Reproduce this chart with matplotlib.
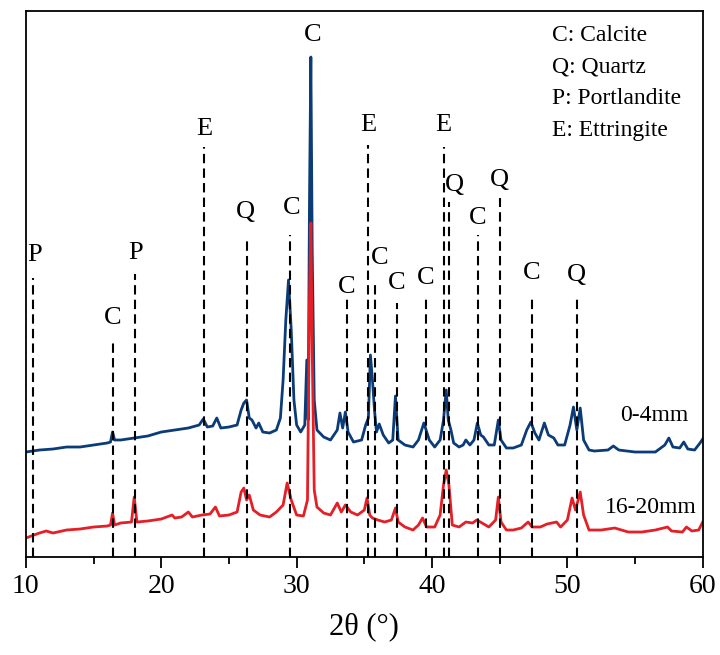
import numpy as np
import matplotlib.pyplot as plt

plt.rcParams['font.family'] = ['Liberation Serif', 'DejaVu Serif']

# two-theta positions and intensities (arb. units, offset already included)
blue_x = [10.0, 11.0, 12.0, 13.0, 14.0, 15.0, 16.0, 16.25, 16.4, 16.55, 17.0, 18.0, 19.0, 20.0, 21.0,
          22.0, 22.8, 23.1, 23.4, 23.8, 24.1, 24.4, 25.0, 25.6, 25.9, 26.1, 26.3, 26.5, 26.7, 27.0,
          27.2, 27.5, 28.0, 28.5, 28.8, 29.0, 29.2, 29.4, 29.6, 29.8, 30.0, 30.3, 30.6, 30.75, 30.85,
          30.95, 31.05, 31.15, 31.3, 31.5, 32.0, 32.5, 33.0, 33.2, 33.4, 33.6, 33.8, 34.2, 34.8, 35.1,
          35.3, 35.45, 35.6, 35.75, 35.9, 36.1, 36.4, 36.8, 37.1, 37.3, 37.5, 38.0, 38.6, 39.0, 39.4,
          39.8, 40.2, 40.6, 40.85, 41.05, 41.2, 41.4, 41.6, 42.0, 42.3, 42.5, 42.8, 43.1, 43.35, 43.6,
          43.8, 44.2, 44.6, 44.9, 45.1, 45.5, 46.0, 46.6, 47.0, 47.3, 47.6, 47.9, 48.3, 48.6, 49.0,
          49.3, 49.8, 50.2, 50.45, 50.7, 50.95, 51.2, 51.6, 52.0, 53.0, 53.4, 53.8, 55.0, 56.5, 57.2,
          57.5, 57.8, 58.3, 58.6, 58.9, 59.4, 59.8, 60.0]
blue_y = [105, 107, 108, 110, 110, 112, 114, 115, 125, 117, 117, 119, 121, 125, 127,
          129, 132, 138, 130, 131, 139, 129, 130, 132, 147, 154, 157, 139, 137, 129,
          134, 125, 124, 127, 139, 177, 237, 277, 227, 157, 132, 125, 132, 197, 137,
          357, 500, 307, 157, 127, 120, 117, 127, 144, 129, 145, 125, 115, 117, 132,
          139, 202, 177, 147, 125, 133, 122, 114, 117, 161, 117, 112, 110, 117, 134,
          117, 110, 117, 137, 167, 137, 127, 114, 110, 112, 117, 112, 117, 134, 122,
          120, 112, 112, 137, 117, 109, 109, 112, 127, 135, 124, 117, 134, 122, 119,
          112, 112, 132, 150, 127, 149, 117, 107, 106, 107, 111, 107, 105, 105, 112,
          119, 110, 109, 115, 108, 107, 114, 118]

red_x = [10.0, 11.0, 11.5, 12.0, 13.0, 14.0, 15.0, 16.0, 16.25, 16.4, 16.55, 17.0, 17.8, 18.0, 18.2,
         19.0, 20.0, 20.8, 21.0, 21.5, 22.0, 22.3, 23.0, 23.6, 24.0, 24.3, 25.0, 25.6, 25.9, 26.1,
         26.3, 26.5, 26.8, 27.3, 28.0, 28.5, 29.0, 29.3, 29.6, 30.0, 30.5, 30.8, 30.95, 31.05, 31.15,
         31.3, 31.5, 32.0, 32.5, 33.0, 33.3, 33.6, 34.0, 34.5, 35.0, 35.2, 35.4, 35.6, 36.0, 36.5,
         37.0, 37.3, 37.5, 38.0, 38.6, 39.0, 39.3, 39.6, 40.2, 40.6, 40.85, 41.05, 41.25, 41.5, 42.0,
         42.5, 43.0, 43.3, 43.7, 44.2, 44.7, 44.9, 45.1, 45.5, 46.0, 46.6, 47.1, 47.4, 48.0, 48.5,
         49.2, 49.5, 50.0, 50.35, 50.6, 50.95, 51.2, 51.6, 52.5, 53.5, 54.5, 55.5, 56.5, 57.4, 57.7,
         58.5, 58.8, 59.2, 59.7, 60.0]
red_y = [19, 24, 26, 24, 27, 28, 30, 31, 32, 44, 32, 34, 35, 60, 35,
         36, 38, 42, 39, 40, 45, 40, 42, 43, 50, 41, 42, 45, 65, 69,
         57, 62, 47, 42, 40, 45, 52, 74, 57, 42, 41, 57, 257, 334, 207,
         67, 50, 44, 42, 54, 45, 52, 45, 42, 47, 59, 42, 39, 37, 35,
         37, 49, 35, 30, 27, 32, 39, 30, 30, 42, 72, 87, 72, 32, 30,
         35, 34, 37, 34, 30, 37, 60, 35, 27, 27, 29, 35, 30, 30, 33,
         35, 30, 37, 59, 47, 65, 42, 27, 27, 29, 25, 25, 27, 30, 26,
         25, 30, 26, 27, 35]

# reference lines: position, top of line
ref_pos = [10.55, 16.45, 18.07, 23.15, 26.31, 29.49, 33.73, 35.29, 35.8, 37.39, 39.53,
           40.88, 41.29, 43.42, 45.05, 47.39, 50.68]
ref_top = [279, 214, 283, 410, 320, 322, 260, 412, 274, 254, 260,
           410, 355, 322, 359, 262, 260]

# phase letters: text, x, y
lab_txt = ['P', 'C', 'P', 'E', 'Q', 'C', 'C', 'C', 'E', 'C', 'C', 'C', 'E', 'Q', 'C', 'Q', 'C', 'Q']
lab_x = [10.6, 16.4, 18.1, 23.15, 26.25, 29.6, 31.2, 33.7, 35.3, 36.15, 37.4, 39.5, 40.8, 41.65,
         43.4, 45.0, 47.4, 50.7]
lab_y = [302, 239, 304, 428, 345, 349, 522, 270, 432, 299, 274, 279, 432, 372, 339, 377, 284, 282]

phases = ['C: Calcite', 'Q: Quartz', 'P: Portlandite', 'E: Ettringite']

fig = plt.figure(figsize=(7.2, 6.55), dpi=100)
ax = fig.add_axes([0.036, 0.1496, 0.94, 0.8336])

ax.plot(blue_x, blue_y, color='#0b3c78', lw=2.0)
ax.plot(red_x, red_y, color='#e41f26', lw=2.0)

for p, t in zip(ref_pos, ref_top):
    ax.plot([p, p], [0, t], color='black', lw=1.5, dashes=(4.5, 2.5))

for s, x, y in zip(lab_txt, lab_x, lab_y):
    ax.text(x, y, s, ha='center', va='center', fontsize=19)

for i, s in enumerate(phases):
    ax.text(0.777, 0.955 - i * 0.058, s, transform=ax.transAxes, ha='left', va='center', fontsize=17)

ax.text(56.4, 142, '0-4mm', ha='center', va='center', fontsize=17)
ax.text(56.2, 50, '16-20mm', ha='center', va='center', fontsize=17)

ax.set_xlim(10, 60)
ax.set_ylim(0, 546)
ax.set_yticks([])
ax.set_xticks([10, 20, 30, 40, 50, 60])
ax.set_xticks([15, 25, 35, 45, 55], minor=True)
ax.tick_params(axis='x', which='major', direction='out', length=8, width=1.3, labelsize=20, pad=4)
ax.tick_params(axis='x', which='minor', direction='out', length=5, width=1.3)
for sp in ax.spines.values():
    sp.set_linewidth(1.3)
ax.set_xlabel('2θ (°)', fontsize=22, labelpad=10)

fig.savefig('out.png', dpi=100)
